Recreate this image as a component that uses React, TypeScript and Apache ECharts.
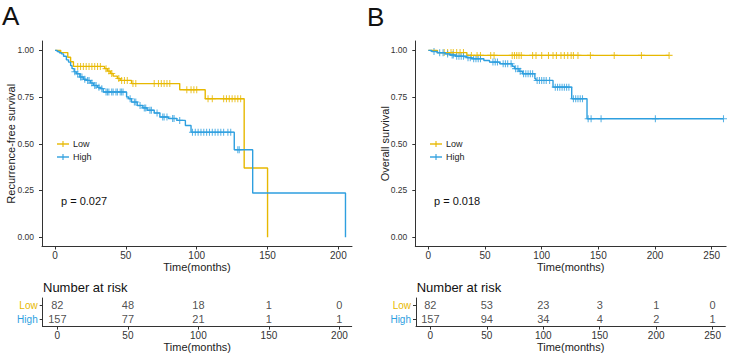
import React, { useEffect, useRef } from "react";
import * as echarts from "echarts";

const LOW_COLOR = "#E7B800";
const HIGH_COLOR = "#2E9FDF";
const INK = "#222222";
const AXIS = "#333333";
const FONT = "'Liberation Sans', Arial, Helvetica, sans-serif";

// Panel A: recurrence-free survival, Kaplan–Meier step points (months, survival)
const rfsLowTime = [0, 4, 9, 11, 13, 35, 37, 39, 41, 44, 46, 54, 88, 106, 133.5, 150];
const rfsLowSurv = [1, 0.988, 0.963, 0.939, 0.914, 0.902, 0.889, 0.876, 0.862, 0.849, 0.839, 0.822, 0.789, 0.741, 0.37, 0];
const rfsLowCensor = [16, 18, 20, 22, 24, 26, 28, 30, 32, 36, 38, 40, 45, 47, 49, 51, 55, 57, 70, 73, 75, 77, 79, 81, 93, 96, 98, 100, 108, 111, 119, 121, 123, 125, 127, 129, 131];
const rfsLowEnd = 150;

const rfsHighTime = [0, 1.5, 3, 4.5, 6, 8, 9.5, 11, 12, 13.5, 15, 17.5, 20, 22, 25, 27, 30, 32, 34, 50.5, 52, 54, 58, 62, 65, 70, 74, 80, 86, 92, 96, 126.5, 139.5, 205];
const rfsHighSurv = [1, 0.994, 0.987, 0.981, 0.968, 0.949, 0.937, 0.918, 0.902, 0.885, 0.875, 0.857, 0.845, 0.839, 0.825, 0.812, 0.802, 0.795, 0.777, 0.75, 0.741, 0.723, 0.705, 0.692, 0.679, 0.665, 0.643, 0.635, 0.625, 0.598, 0.562, 0.468, 0.236, 0];
const rfsHighCensor = [14, 16, 18, 19, 21, 23, 24, 26, 28, 29, 31, 33, 36, 37, 38, 40, 41, 43, 44, 46, 47, 48, 53, 56, 57, 60, 63, 64, 67, 68, 72, 76, 77, 79, 83, 84, 88, 97, 99, 101, 103, 105, 107, 109, 111, 113, 115, 117, 119, 122, 124, 129, 130];
const rfsHighEnd = 205;

// Panel B: overall survival
const osLowTime = [0, 8, 34];
const osLowSurv = [1, 0.988, 0.973];
const osLowCensor = [14, 17, 20, 22, 25, 28, 31, 38, 43, 46, 55, 58, 74, 76, 78, 80, 82, 92, 95, 100, 106, 110, 113, 117, 120, 123, 126, 128, 132, 143, 164, 188, 212.4];
const osLowEnd = 212.4;

const osHighTime = [0, 3, 8, 15, 19, 24, 34, 38, 49, 54, 63, 74, 76, 80, 83, 94, 95, 110, 126.5, 140];
const osHighSurv = [1, 0.994, 0.987, 0.981, 0.975, 0.968, 0.961, 0.955, 0.946, 0.937, 0.928, 0.915, 0.902, 0.888, 0.875, 0.848, 0.839, 0.803, 0.741, 0.634];
const osHighCensor = [5, 10, 13, 17, 21, 22, 25, 27, 29, 31, 35, 37, 40, 42, 44, 46, 57, 59, 61, 66, 68, 70, 73, 77, 79, 81, 84, 86, 88, 90, 92, 96, 98, 100, 102, 104, 107, 112, 114, 116, 118, 120, 122, 124, 128, 130, 132, 134, 136, 141, 143.6, 152.4, 200.3, 260.4];
const osHighEnd = 260.4;

// Axis ticks
const rfsTicks = [0, 50, 100, 150, 200];
const osTicks = [0, 50, 100, 150, 200, 250];
const survTicks = [0, 0.25, 0.5, 0.75, 1];

// Number at risk tables
const riskGroups = ["High", "Low"];
const rfsRiskLow = [82, 48, 18, 1, 0];
const rfsRiskHigh = [157, 77, 21, 1, 1];
const osRiskLow = [82, 53, 23, 3, 1, 0];
const osRiskHigh = [157, 94, 34, 4, 2, 1];

const PLUS =
  "path://M-0.6,-4L0.6,-4L0.6,-0.6L4,-0.6L4,0.6L0.6,0.6L0.6,4L-0.6,4L-0.6,0.6L-4,0.6L-4,-0.6L-0.6,-0.6Z";

function stepData(times: number[], survs: number[], end: number) {
  const pts = times.map((t, i) => [t, survs[i]]);
  const last = pts[pts.length - 1];
  if (end > last[0]) pts.push([end, last[1]]);
  return pts;
}

function survAt(times: number[], survs: number[], t: number) {
  let s = survs[0];
  for (let i = 0; i < times.length; i++) {
    if (times[i] <= t) s = survs[i];
  }
  return s;
}

function curve(name: string, color: string, idx: number, times: number[], survs: number[], end: number) {
  return {
    name,
    type: "line",
    step: "end",
    xAxisIndex: idx,
    yAxisIndex: idx,
    showSymbol: false,
    silent: true,
    lineStyle: { color, width: 1.4 },
    data: stepData(times, survs, end),
  };
}

function censors(color: string, idx: number, times: number[], survs: number[], cens: number[]) {
  return {
    type: "scatter",
    xAxisIndex: idx,
    yAxisIndex: idx,
    symbol: PLUS,
    symbolSize: [7, 7],
    silent: true,
    itemStyle: { color },
    data: cens.map((t) => [t, survAt(times, survs, t)]),
  };
}

function riskRow(idx: number, group: string, ticks: number[], counts: number[]) {
  return {
    type: "scatter",
    xAxisIndex: idx,
    yAxisIndex: idx,
    symbolSize: 0,
    silent: true,
    label: {
      show: true,
      position: "inside",
      formatter: (p: any) => String(p.value[2]),
      color: INK,
      fontSize: 11,
      fontFamily: FONT,
    },
    data: ticks.map((t, i) => [t, group, counts[i]]),
  };
}

const tickLabel = { color: AXIS, fontFamily: FONT };
const axisLine = { show: true, onZero: false, lineStyle: { color: AXIS, width: 1 } };
const axisTick = { show: true, length: 3, lineStyle: { color: AXIS, width: 1 } };

function xValueAxis(grid: number, min: number, max: number, ticks: number[]) {
  return {
    type: "value",
    gridIndex: grid,
    min,
    max,
    name: "Time(months)",
    nameLocation: "middle",
    nameGap: 15,
    nameMoveOverlap: false,
    nameTextStyle: { color: INK, fontSize: 11, fontFamily: FONT },
    axisLine,
    axisTick: { ...axisTick, customValues: ticks },
    axisLabel: { ...tickLabel, fontSize: 10, margin: 4, customValues: ticks },
    splitLine: { show: false },
  };
}

function ySurvAxis(grid: number, title: string, gap: number) {
  return {
    type: "value",
    gridIndex: grid,
    min: -0.05,
    max: 1.05,
    name: title,
    nameLocation: "middle",
    nameGap: gap,
    nameMoveOverlap: false,
    nameTextStyle: { color: INK, fontSize: 11, fontFamily: FONT },
    axisLine,
    axisTick: { ...axisTick, customValues: survTicks },
    axisLabel: {
      ...tickLabel,
      fontSize: 8.5,
      margin: 8,
      customValues: survTicks,
      formatter: (v: number) => v.toFixed(2),
    },
    splitLine: { show: false },
  };
}

function yRiskAxis(grid: number) {
  return {
    type: "category",
    gridIndex: grid,
    data: riskGroups,
    axisLine,
    axisTick: { ...axisTick, alignWithLabel: true },
    axisLabel: {
      margin: 5,
      fontSize: 10,
      fontFamily: FONT,
      formatter: (v: string) => `{${v}|${v}}`,
      rich: {
        Low: { color: LOW_COLOR, fontSize: 10, fontFamily: FONT },
        High: { color: HIGH_COLOR, fontSize: 10, fontFamily: FONT },
      },
    },
    splitLine: { show: false },
  };
}

function legendGroup(x: number) {
  const rows = [
    { label: "Low", color: LOW_COLOR, y: 144 },
    { label: "High", color: HIGH_COLOR, y: 157 },
  ];
  const out: any[] = [];
  rows.forEach((r) => {
    out.push({
      type: "line",
      shape: { x1: x, y1: r.y, x2: x + 12, y2: r.y },
      style: { stroke: r.color, lineWidth: 1.4 },
    });
    out.push({
      type: "line",
      shape: { x1: x + 6, y1: r.y - 3, x2: x + 6, y2: r.y + 3 },
      style: { stroke: r.color, lineWidth: 1.1 },
    });
    out.push({
      type: "text",
      x: x + 16,
      y: r.y,
      style: {
        text: r.label,
        fill: INK,
        font: `9px ${FONT}`,
        textAlign: "left",
        textVerticalAlign: "middle",
      },
    });
  });
  return out;
}

function text(x: number, y: number, str: string, size: number) {
  return {
    type: "text",
    x,
    y,
    style: {
      text: str,
      fill: "#111111",
      font: `${size}px ${FONT}`,
      textAlign: "left",
      textVerticalAlign: "middle",
    },
  };
}

export default function App() {
  const ref = useRef<HTMLDivElement>(null);

  useEffect(() => {
    if (!ref.current) return;
    const chart = echarts.init(ref.current, null, { renderer: "svg" });

    chart.setOption({
      animation: false,
      backgroundColor: "#ffffff",
      textStyle: { fontFamily: FONT },
      grid: [
        { left: 42, top: 41, width: 310, height: 205.5 },
        { left: 415.3, top: 41, width: 310.8, height: 205.5 },
        { left: 42.7, top: 298, width: 309, height: 28.6 },
        { left: 416, top: 298, width: 309.3, height: 28.6 },
      ],
      xAxis: [
        xValueAxis(0, -9.2, 209.6, rfsTicks),
        xValueAxis(1, -11.5, 262.7, osTicks),
        xValueAxis(2, -10.4, 208.7, rfsTicks),
        xValueAxis(3, -12.7, 261.2, osTicks),
      ],
      yAxis: [
        ySurvAxis(0, "Recurrence-free survival", 25.5),
        ySurvAxis(1, "Overall survival", 24.5),
        yRiskAxis(2),
        yRiskAxis(3),
      ],
      series: [
        curve("Low", LOW_COLOR, 0, rfsLowTime, rfsLowSurv, rfsLowEnd),
        curve("High", HIGH_COLOR, 0, rfsHighTime, rfsHighSurv, rfsHighEnd),
        censors(LOW_COLOR, 0, rfsLowTime, rfsLowSurv, rfsLowCensor),
        censors(HIGH_COLOR, 0, rfsHighTime, rfsHighSurv, rfsHighCensor),
        curve("Low", LOW_COLOR, 1, osLowTime, osLowSurv, osLowEnd),
        curve("High", HIGH_COLOR, 1, osHighTime, osHighSurv, osHighEnd),
        censors(LOW_COLOR, 1, osLowTime, osLowSurv, osLowCensor),
        censors(HIGH_COLOR, 1, osHighTime, osHighSurv, osHighCensor),
        riskRow(2, "Low", rfsTicks, rfsRiskLow),
        riskRow(2, "High", rfsTicks, rfsRiskHigh),
        riskRow(3, "Low", osTicks, osRiskLow),
        riskRow(3, "High", osTicks, osRiskHigh),
      ],
      graphic: [
        text(2, 16, "A", 26),
        text(367, 17, "B", 26),
        ...legendGroup(57),
        ...legendGroup(430),
        text(61, 201, "p = 0.027", 11),
        text(434, 201, "p = 0.018", 11),
        text(43, 287, "Number at risk", 13),
        text(416.7, 287, "Number at risk", 13),
      ],
    });

    return () => chart.dispose();
  }, []);

  return (
    <div
      ref={ref}
      style={{ position: "fixed", left: 0, top: 0, width: 732, height: 356, background: "#fff" }}
    />
  );
}
